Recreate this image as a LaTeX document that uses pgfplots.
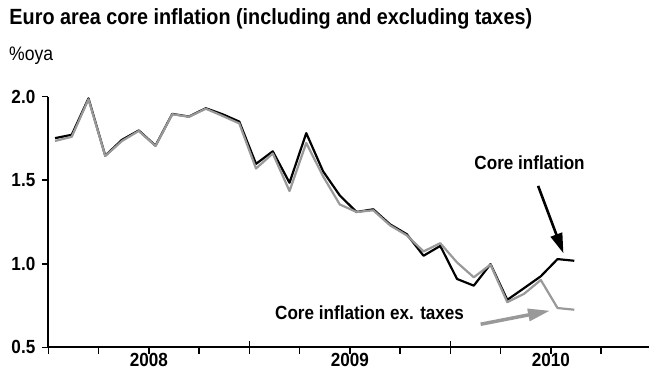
\documentclass[border=0pt]{standalone}
\usepackage{fontspec}
\setmainfont{Liberation Sans}[FakeStretch=0.9]
\usepackage{pgfplots}
\pgfplotsset{compat=1.18}
\usetikzlibrary{arrows.meta}
\definecolor{exgrey}{RGB}{153,153,153}

\begin{document}
\begin{tikzpicture}
\begin{axis}[
  scale only axis,
  width=600.7pt, height=250.6pt,
  xmin=0, xmax=35.86, ymin=0.5, ymax=2.0,
  axis x line=bottom, axis y line=left,
  axis line style={-, line width=1.8pt, black},
  ytick={0.5,1.0,1.5,2.0},
  yticklabel style={font=\fontsize{19}{20}\selectfont\bfseries, xshift=-3pt,
    /pgf/number format/.cd, fixed, fixed zerofill, precision=1, assume math mode=true},
  xtick={0,3,...,33},
  xticklabels={,,2008,,,,2009,,,,2010,},
  xticklabel style={font=\fontsize{19}{20}\selectfont\bfseries, yshift=4pt},
  tick align=outside,
  major tick length=6.5pt,
  tick style={line width=1.5pt, black},
  extra x ticks={0,12,24},
  extra x tick labels={},
  extra x tick style={tick align=center, major tick length=12pt},
  clip=false,
]
\addplot[black, line width=2.2pt, line join=round] coordinates {
(0.4,1.752) (1.4,1.772) (2.4,1.990) (3.4,1.647) (4.4,1.742) (5.4,1.798)
(6.4,1.707) (7.4,1.897) (8.4,1.881) (9.4,1.931) (10.4,1.895) (11.4,1.851)
(12.4,1.598) (13.4,1.673) (14.4,1.485) (15.4,1.782) (16.4,1.554) (17.4,1.409)
(18.4,1.310) (19.4,1.326) (20.4,1.236) (21.4,1.177) (22.4,1.048) (23.4,1.107)
(24.4,0.909) (25.4,0.869) (26.4,0.998) (27.4,0.784) (28.4,0.854) (29.4,0.925)
(30.4,1.028) (31.4,1.018)};
\addplot[exgrey, line width=2.2pt, line join=round] coordinates {
(0.4,1.735) (1.4,1.760) (2.4,1.985) (3.4,1.645) (4.4,1.735) (5.4,1.795)
(6.4,1.705) (7.4,1.895) (8.4,1.880) (9.4,1.928) (10.4,1.885) (11.4,1.840)
(12.4,1.570) (13.4,1.660) (14.4,1.435) (15.4,1.723) (16.4,1.524) (17.4,1.355)
(18.4,1.310) (19.4,1.320) (20.4,1.230) (21.4,1.170) (22.4,1.074) (23.4,1.123)
(24.4,1.008) (25.4,0.919) (26.4,0.995) (27.4,0.770) (28.4,0.820) (29.4,0.903)
(30.4,0.735) (31.4,0.725)};
\node[anchor=base, font=\fontsize{19}{20}\selectfont\bfseries, inner sep=0pt] at (axis cs:28.73,1.566) {Core inflation};
\node[anchor=base, font=\fontsize{19}{20}\selectfont\bfseries, inner sep=0pt] at (axis cs:19.18,0.664) {Core inflation ex. taxes};
\draw[black, line width=2.6pt, -{Triangle[length=20pt,width=12pt]}] (axis cs:29.24,1.466) -- (axis cs:30.75,1.063);
\draw[exgrey, line width=3.5pt, -{Triangle[length=22pt,width=12pt]}] (axis cs:25.81,0.638) -- (axis cs:29.95,0.719);
\end{axis}
\node[anchor=base west, inner sep=0pt, font=\fontsize{22}{23}\selectfont\bfseries] at (-39pt,322.3pt) {Euro area core inflation (including and excluding taxes)};
\node[anchor=base west, inner sep=0pt, font=\fontsize{19.5}{20}\selectfont] at (-39.3pt,286.3pt) {\%oya};
\pgfresetboundingbox
\useasboundingbox (-48.3pt,-25.7pt) rectangle (600.7pt,347.3pt);
\end{tikzpicture}
\end{document}
